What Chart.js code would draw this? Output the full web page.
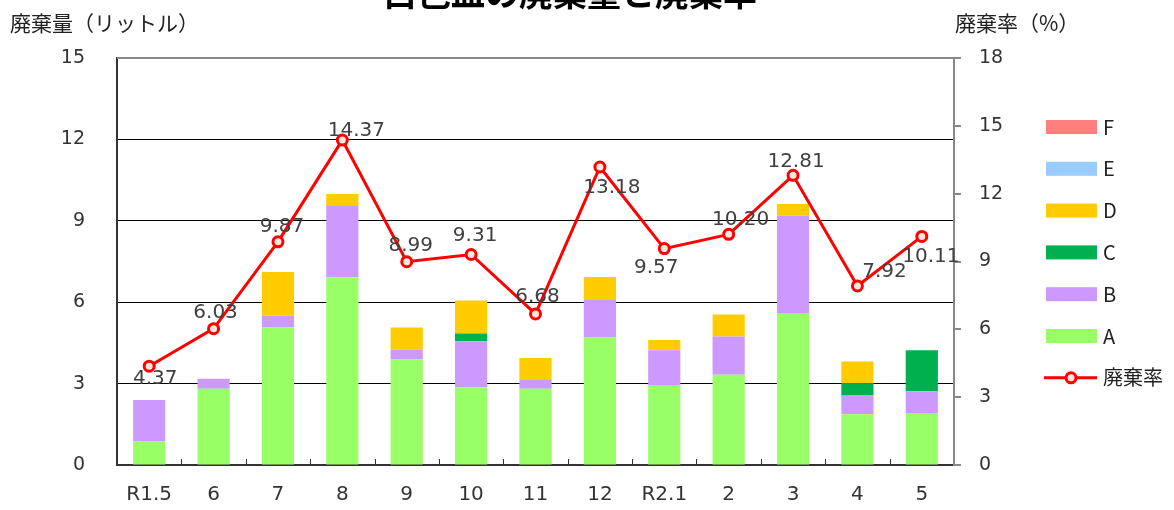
<!DOCTYPE html>
<html>
<head>
<meta charset="utf-8">
<script src="https://cdn.jsdelivr.net/npm/chart.js@4.4.1/dist/chart.umd.min.js"></script>
<style>
  html, body { margin: 0; padding: 0; background: #fff; }
  #wrap { width: 1174px; height: 510px; }
</style>
</head>
<body>
<div id="wrap"><canvas id="myChart" width="1174" height="510"></canvas></div>
<script>
const months = ['R1.5', '6', '7', '8', '9', '10', '11', '12', 'R2.1', '2', '3', '4', '5'];

const aVals = [0.87, 2.81, 5.07, 6.92, 3.89, 2.86, 2.81, 4.71, 2.95, 3.33, 5.60, 1.87, 1.92];
const bVals = [1.53, 0.37, 0.43, 2.65, 0.37, 1.70, 0.35, 1.40, 1.28, 1.41, 3.59, 0.71, 0.80];
const cVals = [0, 0, 0, 0, 0, 0.29, 0, 0, 0, 0, 0, 0.42, 1.51];
const dVals = [0, 0, 1.61, 0.42, 0.81, 1.21, 0.78, 0.82, 0.38, 0.81, 0.43, 0.81, 0];
const eVals = [0, 0, 0, 0, 0, 0, 0, 0, 0, 0, 0, 0, 0];
const fVals = [0, 0, 0, 0, 0, 0, 0, 0, 0, 0, 0, 0, 0];

const rateVals = [4.37, 6.03, 9.87, 14.37, 8.99, 9.31, 6.68, 13.18, 9.57, 10.20, 12.81, 7.92, 10.11];

const leftTicks = [0, 3, 6, 9, 12, 15];
const rightTicks = [0, 3, 6, 9, 12, 15, 18];

const titleText = '白色皿の廃棄量と廃棄率';
const leftTitle = '廃棄量（リットル）';
const rightTitle = '廃棄率（%）';

// where each rate label sits relative to its point
const labelOffsets = [[6, 13], [2, -16], [4, -15], [14, -9], [4, -16], [4, -19], [2, -17],
                      [12, 21], [-8, 19], [12, -15], [3, -14], [27, -14], [9, 20]];

const FONT = '"Noto Sans CJK JP", "Noto Sans", sans-serif';
const NUMFONT = '"DejaVu Sans", sans-serif';

const extras = {
    id: 'extras',
    afterDatasetsDraw(chart) {
        const ctx = chart.ctx;
        const area = chart.chartArea;
        const x = chart.scales.x;
        ctx.save();

        // top border
        ctx.strokeStyle = '#888';
        ctx.lineWidth = 2;
        ctx.beginPath();
        ctx.moveTo(area.left, area.top);
        ctx.lineTo(area.right, area.top);
        ctx.stroke();

        // small inner tick marks between the categories
        ctx.strokeStyle = '#333';
        ctx.lineWidth = 1;
        const step = (x.getPixelForValue(1) - x.getPixelForValue(0));
        for (let i = 1; i < months.length; i++) {
            const px = Math.round(x.getPixelForValue(i) - step / 2) + 0.5;
            ctx.beginPath();
            ctx.moveTo(px, area.bottom);
            ctx.lineTo(px, area.bottom - 6);
            ctx.stroke();
        }

        // rate labels
        const meta = chart.getDatasetMeta(chart.data.datasets.length - 1);
        ctx.fillStyle = '#404040';
        ctx.font = '20px ' + NUMFONT;
        ctx.textAlign = 'center';
        ctx.textBaseline = 'middle';
        meta.data.forEach((pt, i) => {
            const off = labelOffsets[i];
            ctx.fillText(rateVals[i].toFixed(2), pt.x + off[0], pt.y + off[1]);
        });

        // title (cut off at the top like the original)
        ctx.fillStyle = '#000';
        ctx.font = 'bold 34px ' + FONT;
        ctx.textBaseline = 'bottom';
        ctx.fillText(titleText, 570, 10);

        // axis titles
        ctx.fillStyle = '#222';
        ctx.font = '21px ' + FONT;
        ctx.textBaseline = 'middle';
        ctx.textAlign = 'left';
        ctx.fillText(leftTitle, 10, 23);
        ctx.fillText(rightTitle, 955, 23);

        // legend, reversed order
        ctx.font = '20px ' + FONT;
        const sets = chart.data.datasets;
        const order = [5, 4, 3, 2, 1, 0, 6];
        order.forEach((di, k) => {
            const ds = sets[di];
            const cy = 127 + k * 41.8;
            if (ds.type === 'line') {
                ctx.strokeStyle = ds.borderColor;
                ctx.lineWidth = 3;
                ctx.beginPath();
                ctx.moveTo(1044, cy);
                ctx.lineTo(1097, cy);
                ctx.stroke();
                ctx.fillStyle = ds.pointBackgroundColor;
                ctx.beginPath();
                ctx.arc(1071, cy, 5, 0, Math.PI * 2);
                ctx.fill();
                ctx.stroke();
            } else {
                ctx.fillStyle = ds.backgroundColor;
                ctx.fillRect(1046, cy - 7, 51, 14);
            }
            ctx.fillStyle = '#222';
            ctx.fillText(ds.label, 1103, cy);
        });

        ctx.restore();
    }
};

const barSet = (label, data, color) => ({
    type: 'bar',
    label: label,
    data: data,
    backgroundColor: color,
    borderWidth: 0,
    yAxisID: 'y',
    stack: 'waste',
    order: 1,
    categoryPercentage: 1,
    barPercentage: 0.5
});

new Chart(document.getElementById('myChart'), {
    data: {
        labels: months,
        datasets: [
            barSet('A', aVals, '#99FF66'),
            barSet('B', bVals, '#CC99FF'),
            barSet('C', cVals, '#00B050'),
            barSet('D', dVals, '#FFCC00'),
            barSet('E', eVals, '#99CCFF'),
            barSet('F', fVals, '#FF7F7F'),
            {
                type: 'line',
                label: '廃棄率',
                data: rateVals,
                yAxisID: 'y1',
                borderColor: '#FF0000',
                borderWidth: 3,
                pointRadius: 5,
                pointBorderWidth: 3,
                pointBorderColor: '#FF0000',
                pointBackgroundColor: '#FFE8DC',
                tension: 0,
                order: 0
            }
        ]
    },
    options: {
        responsive: false,
        animation: false,
        layout: { padding: { top: 58, left: 0, right: 0, bottom: 0 } },
        plugins: {
            legend: { display: false },
            tooltip: { enabled: false },
            title: { display: false }
        },
        scales: {
            x: {
                stacked: true,
                grid: { display: true, drawOnChartArea: false, drawTicks: false },
                border: { display: true, color: '#333', width: 2 },
                ticks: { color: '#333', font: { size: 20, family: NUMFONT }, padding: 18, maxRotation: 0 },
                afterFit(scale) { scale.height = 45; }
            },
            y: {
                stacked: true,
                min: 0,
                max: 15,
                afterBuildTicks(scale) { scale.ticks = leftTicks.map(v => ({ value: v })); },
                grid: {
                    color: c => (c.tick && c.tick.value === 15) ? '#888' : '#000',
                    lineWidth: 1,
                    drawTicks: false
                },
                border: { display: true, color: '#333', width: 2 },
                ticks: { color: '#333', font: { size: 19, family: NUMFONT }, padding: 32 },
                afterFit(scale) { scale.width = 117; }
            },
            y1: {
                position: 'right',
                min: 0,
                max: 18,
                afterBuildTicks(scale) { scale.ticks = rightTicks.map(v => ({ value: v })); },
                grid: { drawOnChartArea: false, drawTicks: true, tickLength: 7, color: '#888', lineWidth: 2 },
                border: { display: true, color: '#888', width: 2 },
                ticks: { color: '#333', font: { size: 19, family: NUMFONT }, padding: 18 },
                afterFit(scale) { scale.width = 220; }
            }
        }
    },
    plugins: [extras]
});
</script>
</body>
</html>
